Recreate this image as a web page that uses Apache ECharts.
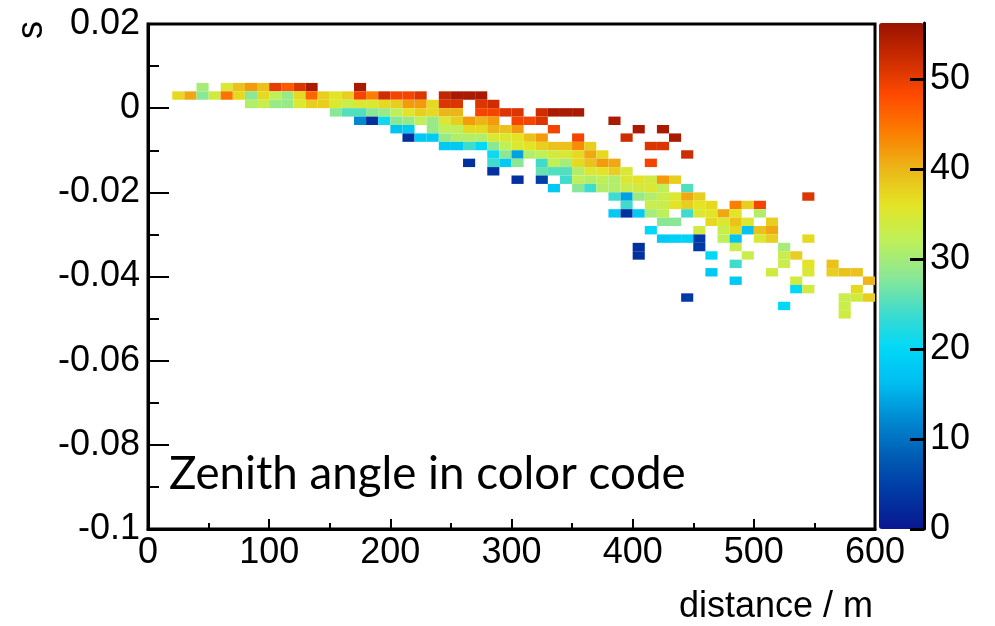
<!DOCTYPE html>
<html>
<head>
<meta charset="utf-8">
<script src="https://cdn.jsdelivr.net/npm/echarts@6/dist/echarts.min.js"></script>
<style>
html,body{margin:0;padding:0;background:#ffffff;}
#chart{width:995px;height:626px;}
</style>
</head>
<body>
<div id="chart"></div>
<script>
// ---- data: 2D histogram, distance bins 10 m, s bins 0.002 ----
const binWidthDistance = 10;
const binWidthS = 0.002;

// centre of each occupied s bin (one row each)
const sBins = [0.005, 0.003, 0.001, -0.001, -0.003, -0.005, -0.007, -0.009, -0.011, -0.013,
  -0.015, -0.017, -0.019, -0.021, -0.023, -0.025, -0.027, -0.029, -0.031, -0.033,
  -0.035, -0.037, -0.039, -0.041, -0.043, -0.045, -0.047, -0.049];

// distance bin centres (m) of the filled cells in each row
const distanceByRow = [
  [45,65,75,85,95,105,115,125,135,175],
  [25,35,45,55,65,75,85,95,105,115,125,135,145,155,165,175,185,195,205,215,225,245,255,265,275],
  [85,95,105,115,125,135,145,155,165,175,185,195,205,215,225,235,245,255,275,285],
  [155,165,175,185,195,205,215,225,235,245,255,275,285,295,305,325,335,345,355],
  [175,185,195,205,215,225,235,245,255,265,275,285,305,315,325,385],
  [205,215,235,245,255,265,275,285,295,305,335,405,425],
  [215,225,235,245,255,265,275,285,295,305,315,325,355,395,435],
  [245,255,265,275,285,295,305,315,325,335,345,355,365,415,425],
  [285,295,305,315,325,335,345,355,365,375,445],
  [265,285,295,305,325,335,345,355,365,375,385,415],
  [285,325,335,345,355,365,375,385,395],
  [305,325,345,355,365,375,385,395,405,415,425,435],
  [335,355,365,375,385,395,405,415,425,445],
  [385,395,405,415,425,435,445,455,545],
  [395,415,425,435,445,455,465,485,495,505],
  [385,395,405,415,425,445,455,465,475,485,505],
  [425,435,465,475,485,495,515],
  [415,455,475,485,495,505,515],
  [425,435,445,455,475,485,505,515,545],
  [405,455,485,525],
  [405,465,495,525,535],
  [485,525,545,565],
  [465,515,545,565,575,585],
  [485,535,595],
  [535,545,585],
  [445,575,585,595],
  [525,575],
  [575]
];

// zenith angle (colour) of those cells
const zenithByRow = [
  [30,35,39,42,39,50,47,51,55,55],
  [37,41,28,34,45,37,28,37,32,29,37,46,38,36,38,49,44,52,49,49,51,53,55,55,55],
  [31,33,29,29,35,38,38,35,33,35,35,37,38,42,42,37,51,51,51,52],
  [28,25,25,28,29,32,36,38,37,40,40,49,49,51,51,52,55,55,55],
  [12,3,21,28,29,32,29,35,38,42,40,42,49,49,51,55],
  [17,18,29,32,32,37,37,40,39,42,49,55,55],
  [3,18,18,29,31,31,31,35,35,36,39,42,49,52,55],
  [18,18,24,20,28,32,35,36,38,39,39,43,38,51,51],
  [21,28,14,31,32,34,35,37,41,37,52],
  [3,24,18,28,24,32,30,37,39,42,41,49],
  [3,26,25,25,31,35,36,38,35],
  [3,5,24,32,31,32,31,35,36,34,42,38],
  [18,28,24,31,31,33,34,35,32,25],
  [24,14,29,31,33,35,41,38,51],
  [24,33,33,36,38,36,37,44,38,49],
  [18,3,18,30,32,24,35,36,41,36,31],
  [28,28,37,35,39,35,38],
  [20,34,33,37,17,39,41],
  [18,19,19,4,32,17,35,38,37],
  [3,4,33,30],
  [3,20,33,33,38],
  [24,33,36,39],
  [18,34,35,38,39,39],
  [18,34,40],
  [20,34,37],
  [4,33,34,38],
  [20,33],
  [34]
];

const xTickValues = [0, 100, 200, 300, 400, 500, 600];
const yTickValues = [0.02, 0, -0.02, -0.04, -0.06, -0.08, -0.1];
const colorTickValues = [0, 10, 20, 30, 40, 50];
const zenithMax = 56.2;

const paletteColors = ['#0a1890','#0038a4','#005cb4','#0088d0','#00bcf0','#00d8f8','#40dccc',
  '#8ce894','#c0f058','#e4e424','#ecb418','#fc7c00','#ff4a00','#cc2c00','#9a1200'];

// ---- build cells ----
const cells = [];
sBins.forEach(function (s, r) {
  distanceByRow[r].forEach(function (d, k) {
    cells.push([d, s, zenithByRow[r][k]]);
  });
});

const FONT = '"Liberation Sans", Arial, Helvetica, sans-serif';
const noteText = 'Zenith angle in color code';
const noteWidth = 517;
let noteSize = 46;
try {
  const cv = document.createElement('canvas').getContext('2d');
  cv.font = '100px Lato';
  const w = cv.measureText(noteText).width;
  if (w > 0) noteSize = Math.round(100 * noteWidth / w * 10) / 10;
} catch (e) {}

const chart = echarts.init(document.getElementById('chart'), null, {renderer: 'canvas'});

function renderCell(params, api) {
  const d = api.value(0), s = api.value(1);
  const a = api.coord([d - binWidthDistance / 2, s + binWidthS / 2]);
  const b = api.coord([d + binWidthDistance / 2, s - binWidthS / 2]);
  return {
    type: 'rect',
    shape: {x: a[0], y: a[1], width: b[0] - a[0], height: b[1] - a[1]},
    style: {fill: api.visual('color'), stroke: null}
  };
}

const black = '#000000';

chart.setOption({
  animation: false,
  backgroundColor: '#ffffff',
  textStyle: {fontFamily: FONT},
  grid: [
    {left: 148, top: 24, width: 727, height: 505, show: true, borderColor: black, borderWidth: 3, backgroundColor: 'transparent', containLabel: false},
    {left: 879, top: 23, width: 45, height: 506, show: false, containLabel: false}
  ],
  xAxis: [
    {
      type: 'value', gridIndex: 0, min: xTickValues[0], max: xTickValues[xTickValues.length - 1], interval: 100,
      axisLine: {show: true, onZero: false, lineStyle: {color: black, width: 3}},
      axisTick: {show: true, inside: true, length: 10, lineStyle: {color: black, width: 2}},
      minorTick: {show: true, splitNumber: 2, length: 6, lineStyle: {color: black, width: 2}},
      splitLine: {show: false},
      axisLabel: {show: true, margin: 6, color: black, fontSize: 36, fontFamily: FONT}
    },
    {type: 'value', gridIndex: 1, show: false, min: 0, max: 1,
      axisLine: {show: false, onZero: false}}
  ],
  yAxis: [
    {
      type: 'value', gridIndex: 0, min: yTickValues[yTickValues.length - 1], max: yTickValues[0], interval: 0.02,
      axisLine: {show: true, onZero: false, lineStyle: {color: black, width: 3}},
      axisTick: {show: true, inside: true, length: 21, lineStyle: {color: black, width: 2}},
      minorTick: {show: true, splitNumber: 2, length: 11, lineStyle: {color: black, width: 2}},
      splitLine: {show: false},
      axisLabel: {show: true, margin: 8, color: black, fontSize: 36, fontFamily: FONT,
        formatter: function (v) { return String(Math.round(v * 1000) / 1000); }}
    },
    {
      type: 'value', gridIndex: 1, position: 'right', min: 0, max: zenithMax, interval: 10, z: 50,
      axisLine: {show: true, onZero: false, lineStyle: {color: black, width: 3}},
      axisTick: {show: true, inside: true, length: 14, customValues: colorTickValues, lineStyle: {color: black, width: 3}},
      axisLabel: {show: true, margin: 6, color: black, fontSize: 36, fontFamily: FONT, customValues: colorTickValues},
      splitLine: {show: false}
    }
  ],
  visualMap: {
    type: 'continuous', min: 0, max: zenithMax, dimension: 2, seriesIndex: 0,
    calculable: false, hoverLink: false, orient: 'vertical', z: 1,
    left: 879, top: 23, itemWidth: 45, itemHeight: 506, padding: 0,
    inRange: {color: paletteColors}
  },
  series: [{
    type: 'custom',
    coordinateSystem: 'cartesian2d',
    xAxisIndex: 0, yAxisIndex: 0,
    renderItem: renderCell,
    encode: {x: 0, y: 1},
    data: cells,
    clip: true,
    silent: true
  }],
  graphic: [
    {type: 'text', x: 32, y: 30, rotation: Math.PI / 2,
      style: {text: 's', font: '36px ' + FONT, fill: black, textAlign: 'center', textVerticalAlign: 'middle'}},
    {type: 'text', x: 873, y: 607,
      style: {text: 'distance / m', font: '36px ' + FONT, fill: black, textAlign: 'right', textVerticalAlign: 'middle'}},
    {type: 'text', x: 169, y: 474,
      style: {text: noteText, font: noteSize + 'px Lato', fill: black, textAlign: 'left', textVerticalAlign: 'middle'}}
  ]
});
</script>
</body>
</html>
